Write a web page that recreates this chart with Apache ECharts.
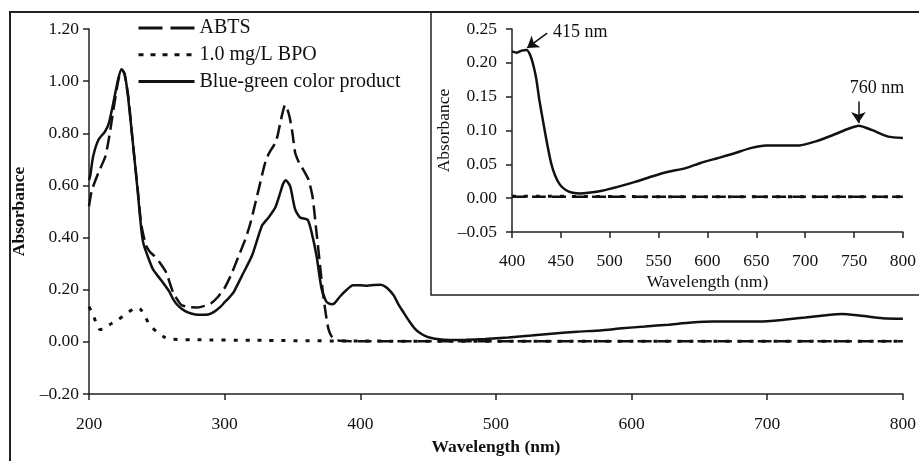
<!DOCTYPE html>
<html>
<head>
<meta charset="utf-8">
<script src="https://cdn.jsdelivr.net/npm/echarts@6/dist/echarts.min.js"></script>
<style>
html, body { margin: 0; padding: 0; background: #fff; }
#main { width: 919px; height: 461px; }
</style>
</head>
<body>
<div id="main"></div>
<script>
var seriesNames = ['ABTS', '1.0 mg/L BPO', 'Blue-green color product'];

// ABTS (dashed)
var abtsWl = [200, 202, 207, 212, 215, 218, 221.5, 224, 226, 229, 232, 236, 238.5, 242, 245, 248, 252, 257, 262, 268,
              274, 280, 285, 290, 295, 300, 305, 310, 315, 319, 323, 326, 329, 331, 334, 337, 339, 341, 343, 344.5,
              346, 348, 350, 352, 355, 358, 362, 365, 367.5, 370, 372.5, 374.5, 376.5, 379, 382, 386, 400, 500, 600, 700, 800];
var abtsAbs = [0.52, 0.58, 0.65, 0.71, 0.79, 0.89, 1.00, 1.045, 1.03, 0.94, 0.78, 0.58, 0.45, 0.37, 0.345, 0.33, 0.305, 0.265, 0.19, 0.142,
               0.133, 0.132, 0.138, 0.148, 0.172, 0.207, 0.26, 0.325, 0.39, 0.455, 0.54, 0.605, 0.67, 0.705, 0.735, 0.76, 0.79, 0.84, 0.885, 0.908,
               0.895, 0.86, 0.80, 0.725, 0.685, 0.66, 0.62, 0.55, 0.43, 0.31, 0.185, 0.11, 0.05, 0.02, 0.008, 0.004, 0.002, 0.002, 0.002, 0.002, 0.002];

// 1.0 mg/L BPO (dotted)
var bpoWl = [200, 203, 205.5, 208, 211, 215, 221.5, 228, 234.9, 238, 241, 244.6, 250, 255.6, 262, 280, 320, 400, 600, 800];
var bpoAbs = [0.135, 0.104, 0.07, 0.047, 0.05, 0.065, 0.085, 0.11, 0.132, 0.125, 0.1, 0.066, 0.038, 0.018, 0.01, 0.008, 0.006, 0.003, 0.002, 0.002];

// Blue-green color product (solid)
var greenWl = [200, 201, 203, 207, 211.7, 214.6, 217.8, 221.5, 224, 226.3, 228.8, 232.4, 236, 238.5, 240, 242.2, 247, 253.2, 259.3, 261.7,
               264.5, 267.8, 272, 277.5, 283, 288.5, 293, 297, 300, 303, 306.8, 312.9, 320.2, 327.5, 332.4, 337.3, 341, 343, 345.1, 348.3,
               351.9, 355.6, 361.2, 364.1, 367.7, 371.4, 375, 378.7, 381, 384.9, 390, 394.6, 400, 405, 410, 415, 419, 422.6, 425, 428,
               432, 436, 440, 444, 449, 455, 462, 470, 478, 492, 509, 526, 543, 560, 577, 593, 610, 627, 644, 660,
               694, 711, 728, 745, 755, 768, 785, 800];
var greenAbs = [0.62, 0.64, 0.71, 0.775, 0.806, 0.838, 0.913, 1.008, 1.046, 1.027, 0.94, 0.76, 0.572, 0.433, 0.38, 0.344, 0.28, 0.236, 0.192, 0.167,
                0.145, 0.129, 0.115, 0.106, 0.104, 0.106, 0.118, 0.135, 0.152, 0.168, 0.192, 0.255, 0.331, 0.445, 0.477, 0.515, 0.572, 0.605, 0.62, 0.597,
                0.509, 0.477, 0.468, 0.42, 0.331, 0.205, 0.154, 0.144, 0.148, 0.173, 0.2, 0.217, 0.217, 0.215, 0.218, 0.219, 0.21, 0.192, 0.175, 0.145,
                0.112, 0.08, 0.052, 0.034, 0.02, 0.012, 0.008, 0.007, 0.008, 0.011, 0.017, 0.024, 0.032, 0.039, 0.044, 0.052, 0.059, 0.066, 0.074, 0.078,
                0.078, 0.084, 0.093, 0.103, 0.107, 0.101, 0.091, 0.089];

// axis ranges [min, max, interval]
var mainX = [200, 800, 100];
var mainY = [-0.2, 1.2, 0.2];
var insetX = [400, 800, 50];
var insetY = [-0.05, 0.25, 0.05];

// peak annotations: label, arrow tail (wl, abs), arrow head (wl, abs)
var peak415 = ['415 nm', 436, 0.244, 415.5, 0.222];
var peak760 = ['760 nm', 754.5, 0.143, 754.5, 0.111];

var serif = 'Liberation Serif';
var ink = '#111';

function pairs(wl, ab, from) {
    var out = [];
    for (var i = 0; i < wl.length; i++) {
        if (wl[i] >= from) out.push([wl[i], ab[i]]);
    }
    return out;
}

function fmt(v) {
    return (v < -1e-9 ? '\u2013' : '') + Math.abs(v).toFixed(2);
}

function axisBase(range) {
    return {
        type: 'value',
        min: range[0],
        max: range[1],
        interval: range[2],
        axisLine: { show: true, onZero: false, lineStyle: { color: '#222', width: 1.5 } },
        axisTick: { show: true, length: 6, lineStyle: { color: '#222', width: 1.5 } },
        splitLine: { show: false },
        nameLocation: 'middle'
    };
}

var chartDom = document.getElementById('main');
var myChart = echarts.init(chartDom);

var mainXAxis = axisBase(mainX);
mainXAxis.gridIndex = 0;
mainXAxis.name = 'Wavelength (nm)';
mainXAxis.nameGap = 44;
mainXAxis.nameTextStyle = { fontFamily: serif, fontSize: 17.5, fontWeight: 'bold', color: ink };
mainXAxis.axisLabel = { fontFamily: serif, fontSize: 17.5, color: ink, margin: 21 };

var mainYAxis = axisBase(mainY);
mainYAxis.gridIndex = 0;
mainYAxis.name = 'Absorbance';
mainYAxis.nameGap = 43;
mainYAxis.nameTextStyle = { fontFamily: serif, fontSize: 17.5, fontWeight: 'bold', color: ink };
mainYAxis.axisLabel = { fontFamily: serif, fontSize: 17.5, color: ink, margin: 10, formatter: fmt };

var insetXAxis = axisBase(insetX);
insetXAxis.gridIndex = 1;
insetXAxis.name = 'Wavelength (nm)';
insetXAxis.nameGap = 41;
insetXAxis.nameTextStyle = { fontFamily: serif, fontSize: 17.5, color: ink };
insetXAxis.axisLabel = { fontFamily: serif, fontSize: 17.5, color: ink, margin: 20 };

var insetYAxis = axisBase(insetY);
insetYAxis.gridIndex = 1;
insetYAxis.name = 'Absorbance';
insetYAxis.nameGap = 53;
insetYAxis.nameTextStyle = { fontFamily: serif, fontSize: 17.5, color: ink };
insetYAxis.axisLabel = { fontFamily: serif, fontSize: 17.5, color: ink, margin: 15, formatter: fmt };

var styles = [
    { type: [14, 6], width: 2.5, color: ink },
    { type: [4, 8], width: 3, color: ink },
    { type: 'solid', width: 2.5, color: ink }
];
var legendDash = [[24, 8], [5, 7], 'solid'];
var sources = [[abtsWl, abtsAbs], [bpoWl, bpoAbs], [greenWl, greenAbs]];

var series = [];
for (var k = 0; k < 3; k++) {
    series.push({
        name: seriesNames[k],
        type: 'line',
        xAxisIndex: 0,
        yAxisIndex: 0,
        symbol: 'none',
        smooth: 0.2,
        itemStyle: { color: ink },
        lineStyle: styles[k],
        data: pairs(sources[k][0], sources[k][1], mainX[0])
    });
}
for (var k = 0; k < 3; k++) {
    var s = {
        name: seriesNames[k],
        type: 'line',
        xAxisIndex: 1,
        yAxisIndex: 1,
        symbol: 'none',
        smooth: 0.2,
        itemStyle: { color: ink },
        lineStyle: styles[k],
        data: pairs(sources[k][0], sources[k][1], insetX[0])
    };
    if (k === 2) {
        s.markLine = {
            silent: true,
            symbol: ['none', 'arrow'],
            symbolSize: 11,
            label: { show: false },
            lineStyle: { type: 'solid', color: ink, width: 1.5 },
            data: [
                [{ coord: [peak415[1], peak415[2]] }, { coord: [peak415[3], peak415[4]] }],
                [{ coord: [peak760[1], peak760[2]] }, { coord: [peak760[3], peak760[4]] }]
            ]
        };
    }
    series.push(s);
}

var legendData = seriesNames.map(function (n, i) {
    return { name: n, lineStyle: { type: legendDash[i], width: 3, color: ink } };
});

var option = {
    animation: false,
    backgroundColor: '#fff',
    grid: [
        { left: 89, right: 10, top: 29, bottom: 64 },
        { left: 512, right: 11, top: 29, bottom: 229 }
    ],
    legend: {
        data: legendData,
        orient: 'vertical',
        left: 132,
        top: 13,
        itemWidth: 56,
        itemHeight: 14,
        itemGap: 6.7,
        itemStyle: { opacity: 0 },
        lineStyle: { width: 3 },
        textStyle: { fontFamily: serif, fontSize: 20, lineHeight: 20, color: ink }
    },
    graphic: [
        { type: 'rect', shape: { x: 10, y: 12, width: 920, height: 460 }, style: { fill: 'none', stroke: '#222', lineWidth: 2 }, silent: true },
        { type: 'rect', shape: { x: 431, y: 12, width: 500, height: 283 }, style: { fill: 'none', stroke: '#222', lineWidth: 1.5 }, silent: true },
        { type: 'text', x: 553, y: 32, style: { text: peak415[0], font: '18px ' + serif, fill: ink, verticalAlign: 'middle' }, silent: true },
        { type: 'text', x: 877, y: 88, style: { text: peak760[0], font: '18px ' + serif, fill: ink, align: 'center', verticalAlign: 'middle' }, silent: true }
    ],
    xAxis: [mainXAxis, insetXAxis],
    yAxis: [mainYAxis, insetYAxis],
    series: series
};

option && myChart.setOption(option);
</script>
</body>
</html>
